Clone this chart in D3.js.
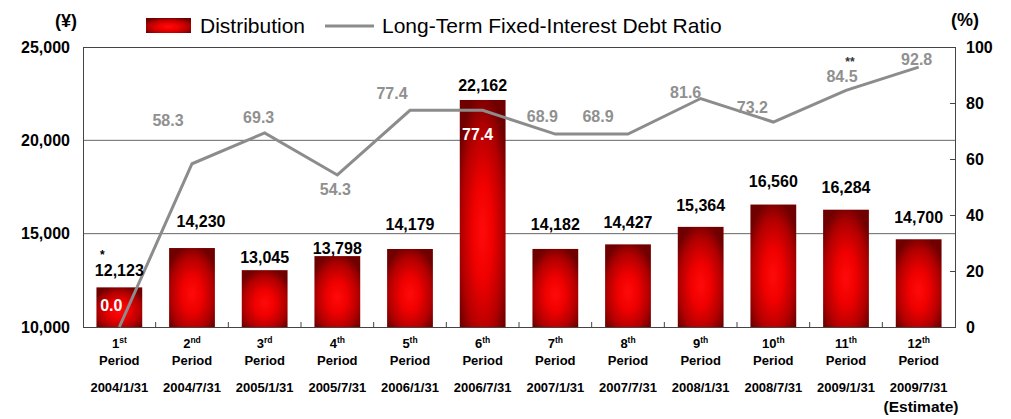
<!DOCTYPE html>
<html><head><meta charset="utf-8">
<script src="https://cdn.jsdelivr.net/npm/d3@7"></script>
<style>
body{margin:0;background:#fff;}
text{font-family:"Liberation Sans",Arial,Helvetica,sans-serif;}
</style>
</head><body>
<svg id="chart" width="1011" height="419"></svg>
<script>
// ---- data ----
const periodNumbers = ["1","2","3","4","5","6","7","8","9","10","11","12"];
const periodSuffixes = ["st","nd","rd","th","th","th","th","th","th","th","th","th"];
const periodDates = ["2004/1/31","2004/7/31","2005/1/31","2005/7/31","2006/1/31","2006/7/31","2007/1/31","2007/7/31","2008/1/31","2008/7/31","2009/1/31","2009/7/31"];
const distribution = [12123,14230,13045,13798,14179,22162,14182,14427,15364,16560,16284,14700];
const debtRatio = [0.0,58.3,69.3,54.3,77.4,77.4,68.9,68.9,81.6,73.2,84.5,92.8];
const leftTicks = [10000,15000,20000,25000];
const rightTicks = [0,20,40,60,80,100];
const seriesNames = ["Distribution","Long-Term Fixed-Interest Debt Ratio"];

// ---- layout (label nudges, px) ----
const barLabelGap = [11,21,7,2,19,9,19,16,16,18,17,16];
const barLabelDx  = [0,9,0,0,0,0,0,0,0,0,0,0];
const lineLabelDx = [-8,-24,-6,-2,-18,-5,-13,-30,-15,-21,-4,-2];
const lineLabelDy = [-16,-38,-10,20,-11,30,-12,-12,-1,-9,-8,-2];
const lineLabelWhite = [true,false,false,false,false,true,false,false,false,false,false,false];

const svg = d3.select("#chart");
const L = 83, R = 955, T = 47, B = 327;

const x = d3.scaleBand().domain(d3.range(distribution.length)).range([L,R]).paddingInner(0.37).paddingOuter(0.185);
const yL = d3.scaleLinear().domain([10000,25000]).range([B,T]);
const yR = d3.scaleLinear().domain([0,100]).range([B,T]);
const cx = i => x(i) + x.bandwidth()/2;

// gradient
const defs = svg.append("defs");
const g1 = defs.append("radialGradient").attr("id","barGrad")
  .attr("cx","50%").attr("cy","58%").attr("r","62%").attr("fx","50%").attr("fy","58%");
g1.append("stop").attr("offset","0%").attr("stop-color","#ff0a0a");
g1.append("stop").attr("offset","35%").attr("stop-color","#f00000");
g1.append("stop").attr("offset","75%").attr("stop-color","#b00000");
g1.append("stop").attr("offset","100%").attr("stop-color","#700000");

// gridlines
svg.append("g").selectAll("line").data(leftTicks.slice(1,3)).join("line")
  .attr("x1",L).attr("x2",R).attr("y1",d=>yL(d)).attr("y2",d=>yL(d))
  .attr("stroke","#666").attr("stroke-width",1);

// bars
svg.append("g").selectAll("rect").data(distribution).join("rect")
  .attr("x",(d,i)=>x(i)).attr("width",x.bandwidth())
  .attr("y",d=>yL(d)).attr("height",d=>B-yL(d))
  .attr("fill","url(#barGrad)");

// frame
const ax = svg.append("g").attr("stroke","#444").attr("stroke-width",1).attr("fill","none");
ax.append("line").attr("x1",L).attr("x2",R).attr("y1",T+0.5).attr("y2",T+0.5);
ax.append("line").attr("x1",L).attr("x2",R).attr("y1",B+0.5).attr("y2",B+0.5);
ax.append("line").attr("x1",L+0.5).attr("x2",L+0.5).attr("y1",T).attr("y2",B);
ax.append("line").attr("x1",R+0.5).attr("x2",R+0.5).attr("y1",T).attr("y2",B+1);
// category boundary ticks
ax.selectAll(".ct").data(d3.range(1,distribution.length)).join("line")
  .attr("x1",i=>x(i)-x.step()*x.paddingInner()/2).attr("x2",i=>x(i)-x.step()*x.paddingInner()/2)
  .attr("y1",B-5).attr("y2",B);
// right ticks
ax.selectAll(".rt").data(rightTicks).join("line")
  .attr("x1",R-5).attr("x2",R).attr("y1",d=>yR(d)+0.5).attr("y2",d=>yR(d)+0.5);

// left tick labels
const fmt = d3.format(",");
svg.append("g").selectAll("text").data(leftTicks).join("text")
  .attr("x",70).attr("y",d=>yL(d)).attr("dy","0.36em").attr("text-anchor","end")
  .attr("font-size",16).attr("font-weight","bold").attr("fill","#000").text(d=>fmt(d));
// right tick labels
svg.append("g").selectAll("text").data(rightTicks).join("text")
  .attr("x",966).attr("y",d=>yR(d)).attr("dy","0.36em").attr("text-anchor","start")
  .attr("font-size",16).attr("font-weight","bold").attr("fill","#000").text(d=>d);
// units
svg.append("text").attr("x",66).attr("y",27).attr("text-anchor","middle")
  .attr("font-size",18).attr("font-weight","bold").text("(¥)");
svg.append("text").attr("x",965).attr("y",26).attr("text-anchor","middle")
  .attr("font-size",18).attr("font-weight","bold").text("(%)");

// line
const line = d3.line().x((d,i)=>cx(i)).y(d=>yR(d));
svg.append("path").datum(debtRatio).attr("d",line)
  .attr("fill","none").attr("stroke","#8c8c8c").attr("stroke-width",3).attr("stroke-linejoin","miter");

// bar labels
svg.append("g").selectAll("text").data(distribution).join("text")
  .attr("x",(d,i)=>cx(i)+barLabelDx[i]).attr("y",(d,i)=>yL(d)-barLabelGap[i])
  .attr("text-anchor","middle").attr("font-size",16).attr("font-weight","bold").attr("fill","#000")
  .text(d=>fmt(d));
// asterisks
svg.append("text").attr("x",cx(0)-17).attr("y",yL(distribution[0])-barLabelGap[0]-17)
  .attr("text-anchor","middle").attr("font-size",12).attr("font-weight","bold").text("*");
svg.append("text").attr("x",cx(10)+4).attr("y",yR(debtRatio[10])+lineLabelDy[10]-16)
  .attr("text-anchor","middle").attr("font-size",12).attr("font-weight","bold").attr("fill","#333").text("**");

// line labels
svg.append("g").selectAll("text").data(debtRatio).join("text")
  .attr("x",(d,i)=>cx(i)+lineLabelDx[i]).attr("y",(d,i)=>yR(d)+lineLabelDy[i])
  .attr("text-anchor","middle").attr("font-size",16).attr("font-weight","bold")
  .attr("fill",(d,i)=>lineLabelWhite[i]?"#fff":"#909090")
  .text(d=>d.toFixed(1));

// x labels
const xl = svg.append("g").selectAll("g").data(periodNumbers).join("g")
  .attr("transform",(d,i)=>`translate(${cx(i)},0)`);
const t1 = xl.append("text").attr("y",348).attr("text-anchor","middle")
  .attr("font-size",13).attr("font-weight","bold");
t1.append("tspan").text(d=>d);
t1.append("tspan").attr("font-size",8.5).attr("dy",-5).text((d,i)=>periodSuffixes[i]);
xl.append("text").attr("y",365).attr("text-anchor","middle")
  .attr("font-size",13).attr("font-weight","bold").text("Period");
xl.append("text").attr("y",392).attr("text-anchor","middle")
  .attr("font-size",13).attr("font-weight","bold").text((d,i)=>periodDates[i]);
svg.append("text").attr("x",921).attr("y",412).attr("text-anchor","middle")
  .attr("font-size",15.5).attr("font-weight","bold").text("(Estimate)");

// legend
const lg = svg.append("g");
lg.append("rect").attr("x",146).attr("y",18).attr("width",45).attr("height",15).attr("fill","url(#barGrad)");
lg.append("text").attr("x",200).attr("y",33).attr("font-size",21).attr("fill","#000").text(seriesNames[0]);
lg.append("line").attr("x1",325).attr("x2",374).attr("y1",26).attr("y2",26)
  .attr("stroke","#8c8c8c").attr("stroke-width",3);
lg.append("text").attr("x",382).attr("y",33).attr("font-size",21).attr("fill","#000").text(seriesNames[1]);
</script>
</body></html>
